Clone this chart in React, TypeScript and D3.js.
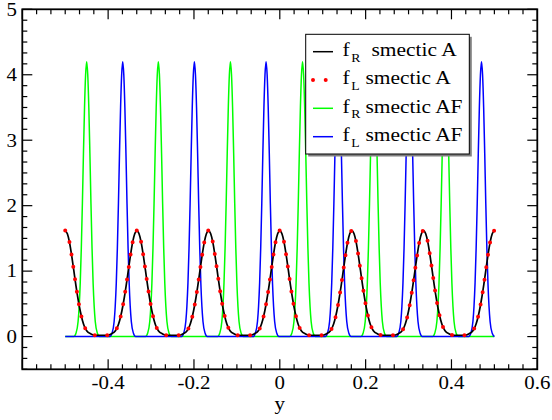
import React from "react";
import * as d3 from "d3";

// ---- data ----
// Smectic A: peak centres (f_R and f_L coincide)
const smAPeakCenters = [-0.5, -0.333, -0.166, 0.0, 0.168, 0.335, 0.5];
// Smectic A single-peak profile: offset from centre, value
const smAProfileOffsets = [0, 0.005, 0.01, 0.015, 0.02, 0.025, 0.03, 0.035, 0.04, 0.045, 0.05, 0.06, 0.07];
const smAProfileValues = [1.62, 1.57, 1.44, 1.24, 1.01, 0.78, 0.57, 0.39, 0.25, 0.15, 0.09, 0.04, 0.02];

// Smectic AF: peak centres
const afRPeakCenters = [-0.45, -0.283, -0.115, 0.053, 0.219, 0.386];
const afLPeakCenters = [-0.366, -0.199, -0.032, 0.136, 0.302, 0.47];
const afProfileOffsets = [0, 0.0025, 0.005, 0.0075, 0.01, 0.0125, 0.015, 0.0175, 0.02, 0.025, 0.03];
const afProfileValues = [4.2, 4.0, 3.5, 2.8, 2.03, 1.35, 0.82, 0.46, 0.23, 0.05, 0.0];

const yRange = [-0.5, 0.5];

const xTickLabels = ["-0.4", "-0.2", "0", "0.2", "0.4", "0.6"];
const xTickValues = [-0.4, -0.2, 0, 0.2, 0.4, 0.6];
const yTickValues = [0, 1, 2, 3, 4, 5];

const legendLabels = [
  { main: "f", sub: "R", rest: "smectic A", gap: 2 },
  { main: "f", sub: "L", rest: "smectic A", gap: 1 },
  { main: "f", sub: "R", rest: "smectic AF", gap: 1 },
  { main: "f", sub: "L", rest: "smectic AF", gap: 1 },
];

type P = [number, number];

function buildSeries(centers: number[], offs: number[], vals: number[], baseline: number | null): P[] {
  const pts: P[] = [];
  const prof: P[] = [];
  for (let i = offs.length - 1; i > 0; i--) prof.push([-offs[i], vals[i]]);
  for (let i = 0; i < offs.length; i++) prof.push([offs[i], vals[i]]);
  if (baseline !== null) pts.push([yRange[0], baseline]);
  centers.forEach((c) => {
    prof.forEach(([o, v]) => {
      const x = c + o;
      if (x >= yRange[0] - 1e-9 && x <= yRange[1] + 1e-9) pts.push([x, v]);
    });
  });
  if (baseline !== null) pts.push([yRange[1], baseline]);
  pts.sort((a, b) => a[0] - b[0]);
  return pts;
}

const smA = buildSeries(smAPeakCenters, smAProfileOffsets, smAProfileValues, null);
const afR = buildSeries(afRPeakCenters, afProfileOffsets, afProfileValues, 0);
const afL = buildSeries(afLPeakCenters, afProfileOffsets, afProfileValues, 0);

function SText(props: { x: number; y: number; size: number; anchor?: string; sx?: number; children: React.ReactNode }) {
  const { x, y, size, anchor, sx, children } = props;
  return (
    <text transform={`translate(${x},${y}) scale(${sx ?? 1.1},1)`} fontSize={size} textAnchor={anchor || "start"}>
      {children}
    </text>
  );
}

export default function App() {
  const W = 552, H = 420;
  const L = 22.3, R = 537.3, T = 9.3, B = 369.3;
  const x = d3.scaleLinear().domain([-0.6, 0.6]).range([L, R]);
  const y = d3.scaleLinear().domain([-0.5, 5]).range([B, T]);
  const line = d3.line<P>().x((d) => x(d[0])).y((d) => y(d[1])).curve(d3.curveMonotoneX);

  const xMinor = d3.range(-18, 19).map((i) => i / 30);
  const yMinor = d3.range(-3, 31).map((i) => i / 6);
  const font = "'Liberation Serif', 'Times New Roman', serif";

  const lgX = 305.7, lgY = 34.3, lgW = 163.6, lgH = 119.7;
  const rowY = [51.7, 80, 108.3, 136.7];

  return (
    <svg width={W} height={H} style={{ position: "absolute", left: 0, top: 0, background: "#fff" }}>
      <rect x={0} y={0} width={W} height={H} fill="#fff" />
      <path d={line(afR) || ""} fill="none" stroke="#00ff00" strokeWidth={1.5} />
      <path d={line(afL) || ""} fill="none" stroke="#0000ff" strokeWidth={1.5} />
      <path d={line(smA) || ""} fill="none" stroke="#000" strokeWidth={1.7} />
      <path d={line(smA) || ""} fill="none" stroke="#ff0000" strokeWidth={4} strokeDasharray="0 12.5" strokeLinecap="round" />

      {/* ticks */}
      <g stroke="#000" strokeWidth={1.2}>
        {xMinor.map((v, i) => {
          const major = Math.abs(v * 5 - Math.round(v * 5)) < 1e-6;
          const len = major ? 10 : 5;
          return (
            <g key={"xt" + i}>
              <line x1={x(v)} x2={x(v)} y1={B} y2={B - len} />
              <line x1={x(v)} x2={x(v)} y1={T} y2={T + len} />
            </g>
          );
        })}
        {yMinor.map((v, i) => {
          const major = Math.abs(v - Math.round(v)) < 1e-6;
          const len = major ? 10 : 5;
          return (
            <g key={"yt" + i}>
              <line x1={L} x2={L + len} y1={y(v)} y2={y(v)} />
              <line x1={R} x2={R - len} y1={y(v)} y2={y(v)} />
            </g>
          );
        })}
      </g>
      <rect x={L} y={T} width={R - L} height={B - T} fill="none" stroke="#000" strokeWidth={1.8} />

      {/* tick labels */}
      <g fontFamily={font} fill="#000">
        {xTickValues.map((v, i) => (
          <SText key={"xl" + i} x={x(v)} y={389.3} size={19} anchor="middle">{xTickLabels[i]}</SText>
        ))}
        {yTickValues.map((v, i) => (
          <SText key={"yl" + i} x={17} y={y(v) + 6.3} size={19} anchor="end">{String(v)}</SText>
        ))}
        <SText x={x(0)} y={410} size={19} anchor="middle">y</SText>
      </g>

      {/* legend */}
      <rect x={lgX + 2.5} y={lgY + 2.5} width={lgW} height={lgH} fill="#808080" />
      <rect x={lgX} y={lgY} width={lgW} height={lgH} fill="#fff" stroke="#000" strokeWidth={1} />
      <line x1={313} x2={333} y1={rowY[0]} y2={rowY[0]} stroke="#000" strokeWidth={1.5} />
      <line x1={313} x2={333} y1={rowY[1]} y2={rowY[1]} stroke="#ff0000" strokeWidth={4} strokeDasharray="0 12.7" strokeLinecap="round" />
      <line x1={313} x2={333} y1={rowY[2]} y2={rowY[2]} stroke="#00ff00" strokeWidth={1.5} />
      <line x1={313} x2={333} y1={rowY[3]} y2={rowY[3]} stroke="#0000ff" strokeWidth={1.5} />
      <g fontFamily={font} fill="#000">
        {legendLabels.map((lb, i) => (
          <g key={"lg" + i}>
            <SText x={342.5} y={rowY[i] + 4.3} size={19.5}>{lb.main}</SText>
            <SText x={351.3} y={rowY[i] + 10} size={12.5}>{lb.sub}</SText>
            <SText x={lb.gap === 2 ? 371.5 : 365.5} y={rowY[i] + 4.3} size={19.5}>{lb.rest}</SText>
          </g>
        ))}
      </g>
    </svg>
  );
}
